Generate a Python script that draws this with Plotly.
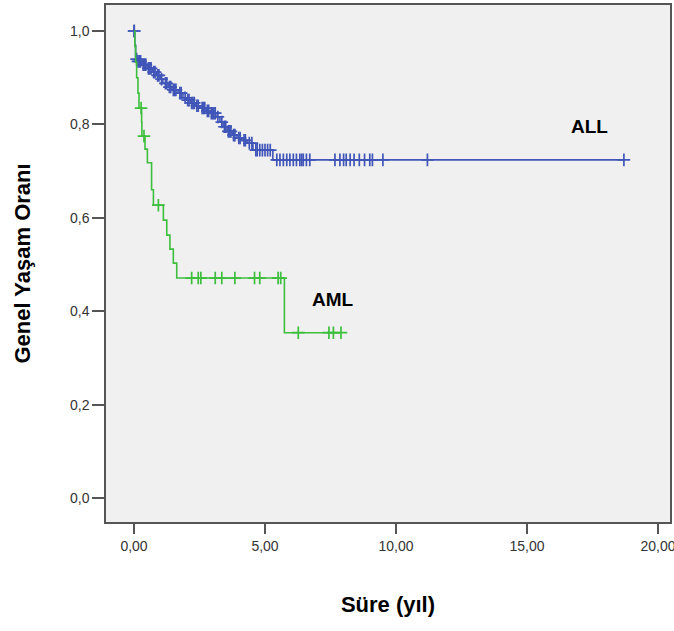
import numpy as np
import plotly.graph_objects as go

# ---------------- data ----------------
# ALL (blue) Kaplan-Meier: event times and survival after each event
ALL_event_t = [0.03, 0.06, 0.15, 0.3, 0.5, 0.7, 0.85, 1.0, 1.1, 1.3, 1.45, 1.68, 1.87, 2.0,
               2.14, 2.35, 2.52, 2.75, 2.9, 3.17, 3.28, 3.4, 3.55, 3.75, 3.93, 4.1, 4.31, 4.54, 5.3]
ALL_event_s = [0.97, 0.94, 0.935, 0.928, 0.92, 0.912, 0.905, 0.897, 0.888, 0.88, 0.874, 0.867, 0.857, 0.852,
               0.846, 0.84, 0.835, 0.829, 0.824, 0.816, 0.805, 0.795, 0.785, 0.777, 0.771, 0.766, 0.76, 0.745, 0.724]
ALL_censor_t = [0.0, 0.01, 0.1, 0.15, 0.2, 0.25, 0.35, 0.4, 0.45, 0.55, 0.6, 0.65, 0.75, 0.8, 0.9, 0.95,
                1.05, 1.2, 1.25, 1.35, 1.4, 1.5, 1.55, 1.6, 1.75, 1.8, 1.95, 2.05, 2.1, 2.2, 2.25, 2.3,
                2.4, 2.45, 2.6, 2.65, 2.7, 2.8, 2.85, 2.95, 3.0, 3.05, 3.1, 3.2, 3.35, 3.45, 3.5, 3.6,
                3.65, 3.7, 3.8, 3.85, 4.0, 4.05, 4.2, 4.25, 4.4, 4.5, 4.65, 4.7, 4.8, 4.9, 5.0, 5.1,
                5.2, 5.45, 5.57, 5.7, 5.83, 5.95, 6.08, 6.2, 6.33, 6.4, 6.46, 6.58, 6.71, 7.67, 7.86,
                8.0, 8.1, 8.25, 8.4, 8.6, 8.8, 9.0, 9.1, 9.5, 11.2, 18.7]

# AML (green) Kaplan-Meier
AML_event_t = [0.03, 0.06, 0.1, 0.15, 0.19, 0.29, 0.30, 0.42, 0.51, 0.67, 0.74, 1.12, 1.25, 1.37,
               1.50, 1.63, 5.74]
AML_event_s = [0.967, 0.933, 0.9, 0.867, 0.835, 0.805, 0.775, 0.747, 0.718, 0.66, 0.627, 0.595,
               0.563, 0.533, 0.503, 0.471, 0.354]
AML_censor_t = [0.27, 0.38, 0.93, 2.2, 2.45, 2.55, 3.1, 3.35, 3.85, 4.6, 4.8, 5.5, 5.6, 6.27,
                7.44, 7.61, 7.9]

x_tickvals = [0, 5, 10, 15, 20]
x_ticktext = ["0,00", "5,00", "10,00", "15,00", "20,00"]
y_tickvals = [0.0, 0.2, 0.4, 0.6, 0.8, 1.0]
y_ticktext = ["0,0", "0,2", "0,4", "0,6", "0,8", "1,0"]

group_labels = ["ALL", "AML"]

BLUE = "#4055B8"
GREEN = "#3DBE3D"


def km_path(ev_t, ev_s, cens_t):
    tmax = max(max(ev_t), max(cens_t))
    xs = [0.0] + list(ev_t) + [tmax]
    ys = [1.0] + list(ev_s) + [ev_s[-1]]
    return xs, ys


def surv_at(ev_t, ev_s, t):
    ev_t = np.asarray(ev_t)
    out = []
    for tt in t:
        idx = np.searchsorted(ev_t, tt, side="right") - 1
        out.append(1.0 if idx < 0 else ev_s[idx])
    return out


fig = go.Figure()

for ev_t, ev_s, cens, col in [(ALL_event_t, ALL_event_s, ALL_censor_t, BLUE),
                              (AML_event_t, AML_event_s, AML_censor_t, GREEN)]:
    xs, ys = km_path(ev_t, ev_s, cens)
    fig.add_trace(go.Scatter(x=xs, y=ys, mode="lines", line=dict(color=col, width=1.6, shape="hv"),
                             showlegend=False, hoverinfo="skip"))
    fig.add_trace(go.Scatter(x=cens, y=surv_at(ev_t, ev_s, cens), mode="markers",
                             marker=dict(symbol="cross-thin", size=9, color=col,
                                         line=dict(color=col, width=1.7)),
                             showlegend=False, hoverinfo="skip"))

fig.add_annotation(x=17.4, y=0.795, text="<b>ALL</b>", showarrow=False,
                   font=dict(size=19, color="black", family="Arial, Liberation Sans"))
fig.add_annotation(x=7.6, y=0.426, text="<b>AML</b>", showarrow=False,
                   font=dict(size=19, color="black", family="Arial, Liberation Sans"))

axis_common = dict(showgrid=False, zeroline=False, showline=True, mirror=True, automargin=False,
                   ticklabeloverflow="allow",
                   linecolor="#555555", linewidth=1.5, ticks="outside", tickcolor="#555555",
                   tickwidth=1.5, tickfont=dict(size=14, color="#333333"))

fig.update_xaxes(range=[-1.07, 20.46], tickvals=x_tickvals, ticktext=x_ticktext, ticklen=10,
                 title=dict(text="<b>Süre (yıl)</b>", font=dict(size=22, color="black"), standoff=44),
                 **axis_common)
fig.update_yaxes(range=[-0.0514, 1.0557], tickvals=y_tickvals, ticktext=y_ticktext, ticklen=12,
                 title=dict(text="<b>Genel Yaşam Oranı</b>", font=dict(size=22, color="black"), standoff=33),
                 **axis_common)

fig.update_layout(width=674, height=631, margin=dict(l=106, r=4, t=5, b=109),
                  paper_bgcolor="white", plot_bgcolor="#F0F0F0",
                  font=dict(family="Arial, Liberation Sans"))

fig.write_html("out.html", config={"displayModeBar": False},
               post_script="document.body.style.margin='0px';document.body.style.overflow='hidden';")
